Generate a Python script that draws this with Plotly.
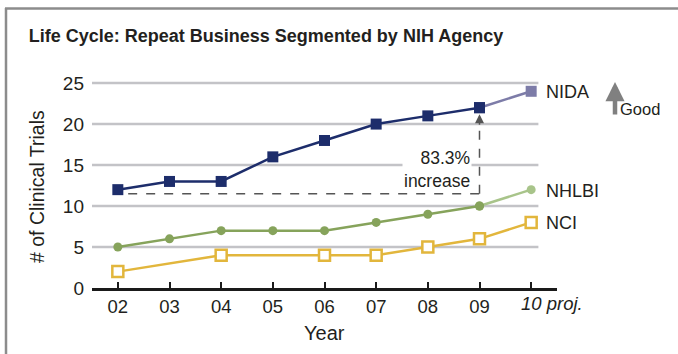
import plotly.graph_objects as go

years = ["02", "03", "04", "05", "06", "07", "08", "09", "10"]
year_labels = ["02", "03", "04", "05", "06", "07", "08", "09", ""]
proj_label = "<i>10 proj.</i>"
nida = [12, 13, 13, 16, 18, 20, 21, 22, 24]
nhlbi = [5, 6, 7, 7, 7, 8, 9, 10, 12]
nci = [2, None, 4, None, 4, 4, 5, 6, 8]
y_ticks = [0, 5, 10, 15, 20, 25]
dash_level = 11.5
increase_text = "83.3%<br>increase"

FONT = "Liberation Sans, Arial, sans-serif"
TXT = "#231f20"
NIDA_C, NIDA_P = "#1d2d6b", "#7d7ca8"
NHL_C, NHL_P = "#86a35b", "#a8c48a"
NCI_C = "#e2b63c"

W, H = 678, 354
L, R, T, B = 92, 121, 79, 66
xi = list(range(len(years)))

fig = go.Figure()
# NIDA
fig.add_trace(go.Scatter(x=xi[-2:], y=nida[-2:], mode="lines+markers",
                         line=dict(color=NIDA_P, width=2.5),
                         marker=dict(symbol="square", size=11, color=[NIDA_C, NIDA_P]),
                         cliponaxis=False, showlegend=False))
fig.add_trace(go.Scatter(x=xi[:-1], y=nida[:-1], mode="lines+markers",
                         line=dict(color=NIDA_C, width=2.5),
                         marker=dict(symbol="square", size=11, color=NIDA_C),
                         cliponaxis=False, showlegend=False))
# NHLBI
fig.add_trace(go.Scatter(x=xi[-2:], y=nhlbi[-2:], mode="lines+markers",
                         line=dict(color=NHL_P, width=2.5),
                         marker=dict(symbol="circle", size=9, color=[NHL_C, NHL_P]),
                         cliponaxis=False, showlegend=False))
fig.add_trace(go.Scatter(x=xi[:-1], y=nhlbi[:-1], mode="lines+markers",
                         line=dict(color=NHL_C, width=2.5),
                         marker=dict(symbol="circle", size=9, color=NHL_C),
                         cliponaxis=False, showlegend=False))
# NCI
fig.add_trace(go.Scatter(x=xi, y=nci, mode="lines+markers", connectgaps=True,
                         line=dict(color=NCI_C, width=2.5),
                         marker=dict(symbol="square", size=11, color="white",
                                     line=dict(color=NCI_C, width=2.5)),
                         cliponaxis=False, showlegend=False))

shapes = []
for v in y_ticks[1:]:
    shapes.append(dict(type="line", xref="x", yref="y", x0=-0.5, x1=8.14, y0=v, y1=v,
                       line=dict(color="#c3c3c7", width=2.5), layer="below"))
# dashed increase guide
shapes.append(dict(type="line", xref="x", yref="y", x0=0.2, x1=7, y0=dash_level, y1=dash_level,
                   line=dict(color="#555555", width=1.5, dash="dash")))
shapes.append(dict(type="line", xref="x", yref="y", x0=7, x1=7, y0=dash_level, y1=20.6,
                   line=dict(color="#555555", width=1.5, dash="dash")))

def px(x):
    return (x - L) / (W - L - R)

def py(y):
    return (H - B - y) / (H - T - B)

# frame
shapes.append(dict(type="line", xref="paper", yref="paper", x0=px(5), x1=px(680), y0=py(8.5), y1=py(8.5),
                   line=dict(color="#8c8c8c", width=2.5)))
shapes.append(dict(type="line", xref="paper", yref="paper", x0=px(6), x1=px(6), y0=py(8), y1=py(360),
                   line=dict(color="#8c8c8c", width=2.5)))

ann = []
ann.append(dict(x=6.86, y=14.4, xref="x", yref="y", text=increase_text, showarrow=False,
                xanchor="right", yanchor="middle", align="right", bgcolor="white",
                font=dict(size=17.5, color=TXT, family=FONT)))
ann.append(dict(x=7, y=21.2, xref="x", yref="y", ax=0, ay=12, text="", showarrow=True,
                arrowhead=2, arrowsize=1.2, arrowwidth=1.5, arrowcolor="#555555"))
label_y = {"NIDA": 23.9, "NHLBI": 11.8, "NCI": 7.9}
for name, vals in [("NIDA", nida), ("NHLBI", nhlbi), ("NCI", nci)]:
    ann.append(dict(x=8.24, y=vals[-1], xref="x", yref="y", text=name, showarrow=False,
                    xanchor="left", yanchor="middle", yshift=-1,
                    font=dict(size=18, color=TXT, family=FONT)))
# projected tick label
ann.append(dict(x=8, y=py(303), xref="x", yref="paper", text=proj_label, showarrow=False,
                xanchor="left", yanchor="middle", xshift=-12,
                font=dict(size=18.5, color=TXT, family=FONT)))
# "Good" arrow
ann.append(dict(x=px(615), y=py(82), xref="paper", yref="paper", ax=0, ay=34,
                text="", showarrow=True, arrowhead=2, arrowsize=0.85, arrowwidth=4.5,
                arrowcolor="#808080"))
ann.append(dict(x=px(618), y=py(109), xref="paper", yref="paper", text="Good", showarrow=False,
                xanchor="left", yanchor="middle", font=dict(size=16.5, color=TXT, family=FONT)))
ann.append(dict(x=px(37), y=py(187), xref="paper", yref="paper", text="# of Clinical Trials",
                showarrow=False, textangle=-90, xanchor="center", yanchor="middle",
                font=dict(size=19.5, color=TXT, family=FONT)))
ann.append(dict(x=4, y=py(333), xref="x", yref="paper", text="Year", showarrow=False,
                xanchor="center", yanchor="middle", font=dict(size=20, color=TXT, family=FONT)))

fig.update_layout(
    width=W, height=H, margin=dict(l=L, r=R, t=T, b=B),
    paper_bgcolor="white", plot_bgcolor="white",
    title=dict(text="<b>Life Cycle: Repeat Business Segmented by NIH Agency</b>",
               xref="container", yref="container", x=266 / W, y=1 - 36 / H,
               xanchor="center", yanchor="middle",
               font=dict(size=18, color=TXT, family=FONT)),
    xaxis=dict(range=[-0.5, 8.5], tickmode="array", tickvals=xi, ticktext=year_labels,
               showgrid=False, zeroline=False, showline=True, linecolor="#1a1a1a", linewidth=3,
               ticks="inside", ticklen=6, tickwidth=2, tickcolor="#1a1a1a",
               tickfont=dict(size=18.5, color=TXT, family=FONT)),
    yaxis=dict(range=[0, 25.5], tickmode="array", tickvals=y_ticks, showgrid=False,
               zeroline=False, showline=False, ticks="", ticklabelstandoff=7,
               tickfont=dict(size=19, color=TXT, family=FONT)),
    shapes=shapes, annotations=ann,
)
fig.write_html("out.html")
